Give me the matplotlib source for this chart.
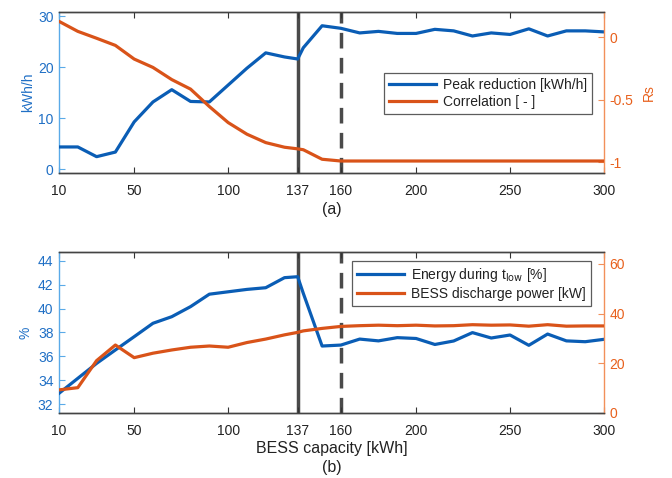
import matplotlib
matplotlib.use("Agg")
import matplotlib.pyplot as plt
import numpy as np

plt.rcParams['font.family'] = ['Liberation Sans', 'DejaVu Sans']

capacity = [10, 20, 30, 40, 50, 60, 70, 80, 90, 100, 110, 120, 130, 137, 140, 150,
            160, 170, 180, 190, 200, 210, 220, 230, 240, 250, 260, 270, 280, 290, 300]
peak_reduction = [4.4, 4.4, 2.5, 3.4, 9.3, 13.2, 15.6, 13.3, 13.2, 16.5, 19.8, 22.8, 22.0, 21.6, 23.8, 28.1,
                  27.6, 26.7, 27.0, 26.6, 26.6, 27.4, 27.1, 26.1, 26.7, 26.4, 27.5, 26.1, 27.1, 27.1, 26.9]
correlation = [0.125, 0.045, -0.01, -0.067, -0.176, -0.243, -0.34, -0.416, -0.555, -0.683, -0.776, -0.843, -0.88, -0.893, -0.9, -0.976,
               -0.99, -0.99, -0.99, -0.99, -0.99, -0.99, -0.99, -0.99, -0.99, -0.99, -0.99, -0.99, -0.99, -0.99, -0.99]
energy_tlow = [32.92, 34.17, 35.42, 36.54, 37.65, 38.77, 39.32, 40.16, 41.2, 41.4, 41.6, 41.74, 42.58, 42.66, 41.27, 36.87,
               36.95, 37.45, 37.3, 37.57, 37.5, 37.0, 37.29, 37.99, 37.54, 37.79, 36.93, 37.87, 37.3, 37.23, 37.43]
discharge_power = [9.2, 10.1, 21.0, 27.3, 22.2, 24.0, 25.3, 26.4, 26.9, 26.4, 28.3, 29.7, 31.4, 32.4, 33.0, 34.0,
                   34.8, 35.1, 35.3, 35.1, 35.3, 35.0, 35.1, 35.5, 35.3, 35.4, 34.9, 35.5, 34.9, 35.0, 35.0]
xticks = [10, 50, 100, 137, 160, 200, 250, 300]

BLUE = '#0a5db5'
ORANGE = '#d95319'
BLUE_TXT = '#1f6fc5'
ORANGE_TXT = '#e8601c'
BLUE_SPINE = '#5aaae8'
ORANGE_SPINE = '#f2905a'
GREY = '#4a4a4a'
FS = 10
FS_X = 11.5

fig = plt.figure(figsize=(6.72, 4.78), dpi=100)
ax1 = fig.add_axes([0.0878, 0.638, 0.811, 0.337])
ax2 = fig.add_axes([0.0878, 0.1366, 0.811, 0.3356])


def style(ax, axr, ylim_l, ylim_r, yt_l, yt_r):
    ax.set_xlim(10, 300)
    ax.set_xticks(xticks)
    ax.set_xticklabels([str(t) for t in xticks], fontsize=FS)
    ax.set_ylim(*ylim_l)
    ax.set_yticks(yt_l)
    axr.set_ylim(*ylim_r)
    axr.set_yticks(yt_r)
    ax.tick_params(axis='x', direction='in', length=4, top=True, colors='#333333', labelcolor='#222222', pad=8)
    ax.tick_params(axis='y', direction='in', length=4, colors=BLUE_SPINE, labelcolor=BLUE_TXT, labelsize=FS, pad=4)
    axr.tick_params(axis='y', direction='in', length=4, colors=ORANGE_SPINE, labelcolor=ORANGE_TXT, labelsize=FS, pad=4)
    for s in ('top', 'bottom'):
        ax.spines[s].set_color('#444444')
        axr.spines[s].set_color('#444444')
    ax.spines['left'].set_color(BLUE_SPINE)
    axr.spines['left'].set_visible(False)
    axr.spines['right'].set_color(ORANGE_SPINE)
    ax.spines['right'].set_visible(False)
    for s in ax.spines.values():
        s.set_linewidth(1.0)
    for s in axr.spines.values():
        s.set_linewidth(1.0)
    ax.axvline(137, color=GREY, lw=2.5, zorder=1)
    ax.axvline(160, color=GREY, lw=2.5, ls=(0, (4.5, 2.7)), zorder=1)


# Panel (a)
ax1r = ax1.twinx()
l1, = ax1.plot(capacity, peak_reduction, color=BLUE, lw=2.3, zorder=3)
l2, = ax1r.plot(capacity, correlation, color=ORANGE, lw=2.3, zorder=3)
style(ax1, ax1r, (-0.7, 30.8), (-1.086, 0.2), [0, 10, 20, 30], [-1, -0.5, 0])
ax1r.set_yticklabels(['-1', '-0.5', '0'])
ax1.set_ylabel('kWh/h', color=BLUE_TXT, fontsize=FS, labelpad=2)
ax1r.set_ylabel('Rs', color=ORANGE_TXT, fontsize=FS, labelpad=6)
ax1.set_xlabel('(a)', fontsize=FS_X, labelpad=3, color='#222222')
leg = ax1r.legend([l1, l2], ['Peak reduction [kWh/h]', 'Correlation [ - ]'],
                  loc='upper right', bbox_to_anchor=(0.978, 0.621), fontsize=FS,
                  frameon=True, fancybox=False, edgecolor='#333333', handlelength=3.4,
                  borderpad=0.35, labelspacing=0.25, handletextpad=0.5, borderaxespad=0)
leg.get_frame().set_linewidth(0.9)
for t in leg.get_texts():
    t.set_color('#222222')

# Panel (b)
ax2r = ax2.twinx()
l3, = ax2.plot(capacity, energy_tlow, color=BLUE, lw=2.3, zorder=3)
l4, = ax2r.plot(capacity, discharge_power, color=ORANGE, lw=2.3, zorder=3)
style(ax2, ax2r, (31.3, 44.7), (0, 64.7), [32, 34, 36, 38, 40, 42, 44], [0, 20, 40, 60])
ax2.set_ylabel('%', color=BLUE_TXT, fontsize=FS, labelpad=4)
ax2.set_xlabel('BESS capacity [kWh]\n(b)', fontsize=FS_X, labelpad=2, color='#222222', linespacing=1.35)
leg2 = ax2r.legend([l3, l4], ['Energy during t$_{\\mathrm{low}}$ [%]', 'BESS discharge power [kW]'],
                   loc='upper right', bbox_to_anchor=(0.976, 0.946), fontsize=FS,
                   frameon=True, fancybox=False, edgecolor='#333333', handlelength=3.4,
                   borderpad=0.35, labelspacing=0.25, handletextpad=0.5, borderaxespad=0)
leg2.get_frame().set_linewidth(0.9)
for t in leg2.get_texts():
    t.set_color('#222222')

fig.savefig('out.png', dpi=100)
